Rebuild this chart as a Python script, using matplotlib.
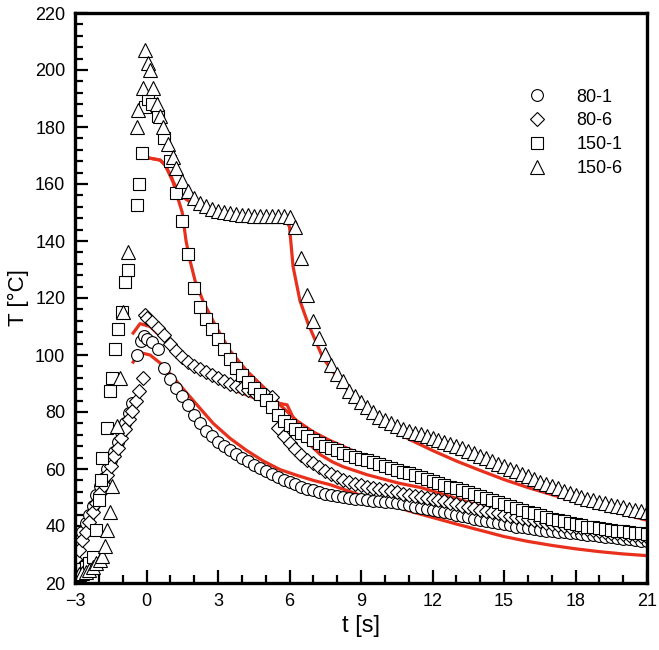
#!/usr/bin/env python3

import numpy as np
import matplotlib
matplotlib.use("Agg")
import matplotlib.pyplot as plt

plt.rcParams['font.family'] = ['Liberation Sans', 'DejaVu Sans']

# mesures (symboles) : partie montée lue point par point, puis pas de 0.25 s
t_80_1_early = [-3.0, -2.85, -2.7, -2.55, -2.4, -2.25, -2.1, -1.95, -1.8, -1.65,
                -1.5, -1.35, -1.2, -1.05, -0.9, -0.75, -0.6, -0.4, -0.25, -0.12]
T_80_1_early = [32, 35, 38, 41, 44, 47, 51, 54, 57, 60,
                63, 66, 69.5, 73, 76, 79.5, 83, 100, 105, 106.5]
T_80_1 = [105.5, 104.5, 102.0, 95.5, 91.5, 88.5, 85.5, 82.5, 79.0, 76.0,
          73.5, 71.5, 69.5, 68.0, 66.7, 65.3, 64.0, 62.8, 61.5, 60.3,
          59.2, 58.2, 57.2, 56.3, 55.4, 54.6, 53.8, 53.1, 52.5, 51.9,
          51.4, 50.9, 50.5, 50.1, 49.8, 49.5, 49.3, 49.1, 48.9, 48.7,
          48.5, 48.3, 48.0, 47.6, 47.2, 46.8, 46.4, 46.0, 45.6, 45.2,
          44.8, 44.4, 43.9, 43.4, 43.0, 42.6, 42.2, 41.8, 41.4, 41.0,
          40.6, 40.2, 39.8, 39.5, 39.2, 38.9, 38.6, 38.4, 38.2, 38.0,
          37.8, 37.6, 37.4, 37.2, 37.0, 36.8, 36.5, 36.3, 36.0, 35.8,
          35.5, 35.3, 35.1, 34.9, 34.7]

t_80_6_early = [-3.0, -2.85, -2.7, -2.55, -2.4, -2.25, -2.1, -1.95, -1.8, -1.65,
                -1.5, -1.35, -1.2, -1.05, -0.9, -0.75, -0.6, -0.45, -0.3, -0.15, -0.07]
T_80_6_early = [28.5, 31.5, 35, 38, 41.5, 45, 48, 51.5, 54.5, 58,
                61, 64.5, 67.5, 71, 74, 77.5, 80.5, 84, 87.5, 92, 114]
T_80_6 = [113.0, 111.5, 109.5, 107.0, 104.0, 101.5, 99.3, 97.5, 96.0, 95.0,
          94.0, 93.0, 92.0, 91.0, 90.0, 89.0, 88.3, 87.6, 87.0, 86.4,
          85.9, 85.3, 74.5, 71.5, 69.0, 67.0, 65.0, 63.3, 62.0, 60.6,
          59.4, 58.3, 57.2, 56.3, 55.5, 54.8, 54.3, 53.8, 53.4, 53.0,
          52.6, 52.2, 51.8, 51.4, 51.0, 50.6, 50.2, 49.8, 49.4, 49.0,
          48.6, 48.1, 47.6, 47.1, 46.6, 46.2, 45.7, 45.3, 44.9, 44.5,
          44.0, 43.6, 43.2, 42.8, 42.4, 42.0, 41.6, 41.2, 40.8, 40.5,
          40.1, 39.8, 39.5, 39.2, 38.9, 38.6, 38.3, 38.0, 37.7, 37.5,
          37.2, 37.0, 36.7, 36.5, 36.2]

t_150_1_early = [-3.0, -2.85, -2.7, -2.55, -2.4, -2.25, -2.1, -2.0, -1.92, -1.85,
                 -1.66, -1.53, -1.45, -1.32, -1.2, -1.03, -0.9, -0.78, -0.4, -0.32,
                 -0.2, -0.08, 0.08]
T_150_1_early = [24, 24.5, 25, 25.5, 27, 29, 38.5, 49, 56, 64,
                 74.5, 87.5, 92, 102, 109, 115, 125.5, 130, 152.5, 160,
                 171, 187, 190]
T_150_1 = [188.0, 184.0, 176.0, 168.0, 157.0, 147.0, 135.5, 123.5, 117.0,
           112.5, 109.0, 105.5, 102.0, 98.5, 95.5, 93.0, 90.5, 88.3, 86.3,
           84.3, 81.7, 79.0, 77.0, 75.5, 74.0, 72.8, 71.5, 70.3, 69.2,
           68.2, 67.3, 66.5, 65.7, 65.0, 64.3, 63.6, 63.0, 62.3, 61.6,
           60.9, 60.3, 59.7, 59.1, 58.5, 57.9, 57.3, 56.6, 55.9, 55.2,
           54.5, 53.8, 53.2, 52.6, 52.0, 51.3, 50.6, 49.9, 49.2, 48.5,
           47.8, 47.1, 46.4, 45.7, 45.0, 44.4, 43.8, 43.2, 42.6, 42.1,
           41.6, 41.1, 40.6, 40.2, 39.8, 39.5, 39.2, 38.9, 38.6, 38.3,
           38.1, 37.9, 37.7, 37.5, 37.3]

t_150_6_early = [-3.0, -2.85, -2.7, -2.55, -2.4, -2.25, -2.1, -1.95, -1.87, -1.75,
                 -1.66, -1.53, -1.45, -1.24, -1.11, -0.99, -0.78, -0.4, -0.36, -0.15,
                 -0.06, 0.06, 0.15, 0.27, 0.44, 0.57, 0.69, 0.9, 1.11]
T_150_6_early = [23, 23, 23.5, 24, 24.5, 25.5, 27, 28, 29.5, 33,
                 38.6, 45, 54, 75, 92, 115, 136, 180, 186, 193.7,
                 207, 202.5, 200, 193.7, 188, 184, 180, 174, 169.5]
T_150_6 = [165.5, 161.0, 157.5, 155.0, 153.5, 152.3, 151.3, 150.6, 150.1, 149.7,
           149.4, 149.2, 149.0, 148.9, 148.8, 148.8, 148.7, 148.7, 148.6, 148.3,
           145.0, 134.0, 121.0, 112.0, 106.0, 100.5, 96.5, 93.5, 91.0, 87.5,
           85.5, 83.5, 81.6, 79.9, 78.4, 77.1, 76.0, 75.0, 74.1, 73.4,
           72.8, 72.3, 71.7, 71.0, 70.3, 69.6, 68.8, 68.0, 67.2, 66.4,
           65.5, 64.6, 63.7, 62.8, 61.9, 61.0, 60.1, 59.2, 58.3, 57.4,
           56.5, 55.6, 54.8, 54.0, 53.2, 52.4, 51.7, 51.0, 50.3, 49.6,
           49.0, 48.4, 47.9, 47.4, 46.9, 46.5, 46.1, 45.7, 45.3, 44.9]

# modèle (courbes rouges)
tm_80_1 = [-0.56, -0.4, -0.2, 0.15, 0.6, 1.11, 1.6, 2.12, 2.8, 3.5, 4.2, 4.9, 5.6, 6.3, 7.0,
           7.7, 8.5, 9.25, 10, 11, 12, 13, 14, 15, 16, 17, 18, 19, 20, 21]
Tm_80_1 = [97.5, 99.5, 100.7, 100, 97, 92.3, 87.5, 82.5, 76, 70.8, 66.5, 62.8, 59.8, 57.8, 56,
           54.5, 52.2, 50, 48, 45.3, 43, 40.7, 38.5, 36.3, 34.6, 33.2, 32, 31, 30.2, 29.6]
tm_80_6 = [-0.56, -0.27, 0.15, 0.44, 1.0, 1.5, 2.0, 2.5, 3.0, 3.5, 3.9, 4.5, 5.0, 5.6, 5.9, 6.1,
           6.4, 6.8, 7.3, 7.8, 8.25, 9.25, 10.6, 11.5, 12.5, 14, 15.5, 17, 18.5, 20, 21]
Tm_80_6 = [107.7, 111, 110, 107.7, 103, 98.5, 95, 93, 91, 88.5, 87, 85, 84, 83, 82.5, 79,
           74, 69, 65, 62.5, 60.8, 58, 55, 53.5, 51, 47, 43.5, 39.5, 36.8, 34.5, 33.3]
tm_150_1 = [-0.15, 0.57, 0.78, 1.07, 1.28, 1.5, 1.66, 1.83, 2.04, 2.37, 2.88, 3.5, 4.2, 4.9, 5.6,
            6.3, 7.0, 7.7, 8.5, 9.5, 10.6, 11.5, 12.5, 14, 15.5, 17, 18.5, 20, 21]
Tm_150_1 = [169.5, 168.4, 166.7, 162, 156, 150, 140, 133, 126, 119, 110.5, 101.5, 94.5, 88.8, 82.5,
            77, 73, 70, 67, 63.5, 60, 57.5, 54.5, 49.5, 45.5, 42.5, 40, 38, 37]
tm_150_6 = [-0.15, 0.57, 0.78, 1.1, 1.5, 2.0, 2.5, 3.0, 3.5, 4.5, 5.5, 5.9, 6.0, 6.15, 6.44, 6.78,
            7.4, 8.1, 9.0, 10, 11, 11.5, 12, 13, 14, 15, 16, 17, 18, 19, 20, 21]
Tm_150_6 = [169.5, 168.4, 166.7, 161, 155.5, 152.8, 151, 149.8, 148.8, 148, 147.3, 146.5, 145, 131,
            119, 111, 99, 91, 83, 76.5, 70.5, 68.5, 66.5, 62.8, 59.5, 56.3, 53.5, 51, 48.7, 46.4,
            44.2, 42]

labels = ['80-1', '80-6', '150-1', '150-6']
markers = ['o', 'D', 's', '^']
msizes = [8.5, 7.0, 8.0, 10.0]

# temps des mesures : partie lue + échantillonnage régulier
series = [
    (t_80_1_early + list(np.arange(0, 21.01, 0.25)), T_80_1_early + T_80_1),
    (t_80_6_early + list(np.arange(0, 21.01, 0.25)), T_80_6_early + T_80_6),
    (t_150_1_early + list(np.arange(0.25, 21.01, 0.25)), T_150_1_early + T_150_1),
    (t_150_6_early + list(np.arange(1.25, 21.01, 0.25)), T_150_6_early + T_150_6),
]
models = [(tm_80_1, Tm_80_1), (tm_80_6, Tm_80_6), (tm_150_1, Tm_150_1), (tm_150_6, Tm_150_6)]

fig = plt.figure(figsize=(6.59, 6.5), dpi=100)
ax = fig.add_axes([75 / 659, 67 / 650, 572 / 659, 570 / 650])

for tm, Tm in models:
    ax.plot(tm, Tm, color='#e8301c', lw=2.3, zorder=1)

for (t, T), mk, ms, lab in zip(series, markers, msizes, labels):
    ax.plot(t, T, ls='none', marker=mk, ms=ms, mfc='white', mec='black',
            mew=0.8, label=lab, zorder=2)

ax.set_xlim(-3, 21)
ax.set_ylim(20, 220)
ax.set_xticks(np.arange(-3, 22, 3))
ax.set_xticks(np.arange(-3, 22, 1), minor=True)
ax.set_yticks(np.arange(20, 221, 20))
ax.set_yticks(np.arange(20, 221, 4), minor=True)
ax.tick_params(which='both', direction='in', top=False, right=False, width=1.6,
               labelsize=13, pad=7)
ax.tick_params(which='major', length=9.5)
ax.tick_params(which='minor', length=5.5)
for sp in ax.spines.values():
    sp.set_linewidth(2.4)

ax.set_xlabel('t [s]', fontsize=17, labelpad=4)
ax.set_ylabel('T [°C]', fontsize=16, labelpad=4)

ax.legend(loc='upper right', bbox_to_anchor=(0.97, 0.88), frameon=False,
          fontsize=13, handletextpad=1.2, labelspacing=0.38, borderaxespad=0)

fig.savefig('out.png', dpi=100)
